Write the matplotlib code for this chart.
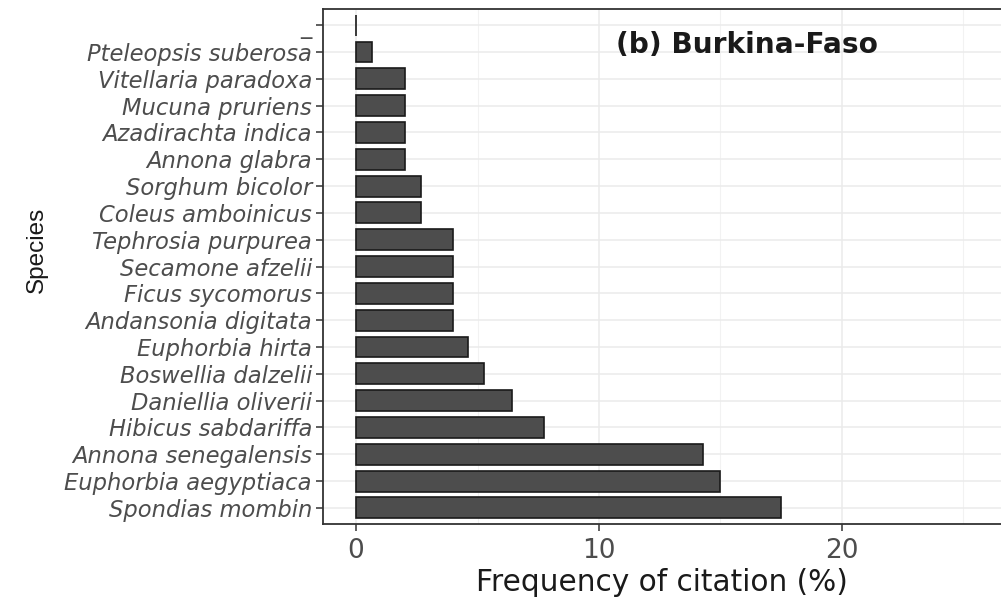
import matplotlib
matplotlib.use("Agg")
import matplotlib.pyplot as plt
from matplotlib.ticker import MultipleLocator

species = ["Spondias mombin", "Euphorbia aegyptiaca", "Annona senegalensis",
           "Hibicus sabdariffa", "Daniellia oliverii", "Boswellia dalzelii",
           "Euphorbia hirta", "Andansonia digitata", "Ficus sycomorus",
           "Secamone afzelii", "Tephrosia purpurea", "Coleus amboinicus",
           "Sorghum bicolor", "Annona glabra", "Azadirachta indica",
           "Mucuna pruriens", "Vitellaria paradoxa", "Pteleopsis suberosa", "_"]
frequency = [17.5, 15.0, 14.3, 7.75, 6.4, 5.25, 4.6, 4.0, 4.0,
             4.0, 4.0, 2.67, 2.67, 2.0, 2.0, 2.0, 2.0, 0.67, 0.0]
x_ticks = [0, 10, 20]
title_text = "(b) Burkina-Faso"

plt.rcParams['font.family'] = ['DejaVu Sans']

fig = plt.figure(figsize=(10.01, 6.04), dpi=100)
ax = fig.add_axes([0.3227, 0.1325, 0.6773, 0.8525])

ypos = list(range(len(species)))
ax.barh(ypos, frequency, height=0.78, color="#4D4D4D", edgecolor="#1A1A1A",
        linewidth=1.2, zorder=3)

ax.set_xlim(-1.36, 26.55)
ax.set_ylim(-0.6, len(species) - 1 + 0.6)
ax.xaxis.set_major_locator(MultipleLocator(10))
ax.xaxis.set_minor_locator(MultipleLocator(5))
ax.set_xticks(x_ticks)
ax.set_yticks(ypos)
ax.set_yticklabels(species, fontstyle="italic", fontsize=16.3, color="#4D4D4D")
for lbl in ax.get_xticklabels():
    lbl.set_fontsize(19)
    lbl.set_color("#4D4D4D")

ax.grid(which="major", color="#EBEBEB", linewidth=1.1, zorder=0)
ax.grid(which="minor", axis="x", color="#F2F2F2", linewidth=0.8, zorder=0)
ax.set_axisbelow(True)

for s in ["left", "top", "bottom"]:
    ax.spines[s].set_color("#333333")
    ax.spines[s].set_linewidth(1.3)
ax.spines["right"].set_visible(False)
ax.tick_params(axis="both", which="major", length=5, width=1.1, color="#333333")
ax.tick_params(axis="x", which="minor", length=0)
ax.tick_params(axis="x", pad=5)
ax.tick_params(axis="y", pad=3)

ax.set_xlabel("Frequency of citation (%)", fontsize=21.3, color="#1A1A1A", labelpad=3)
ax.set_ylabel("Species", fontsize=17.5, color="#1A1A1A",
              fontfamily="Liberation Sans")
ax.yaxis.set_label_coords((48 - 323) / 677.7, (524 - 250) / 515.0)

ax.text(10.7, 17.25, title_text, fontsize=20.2, fontweight="bold", color="#1A1A1A",
        ha="left", va="center")

fig.savefig("out.png", dpi=100)
